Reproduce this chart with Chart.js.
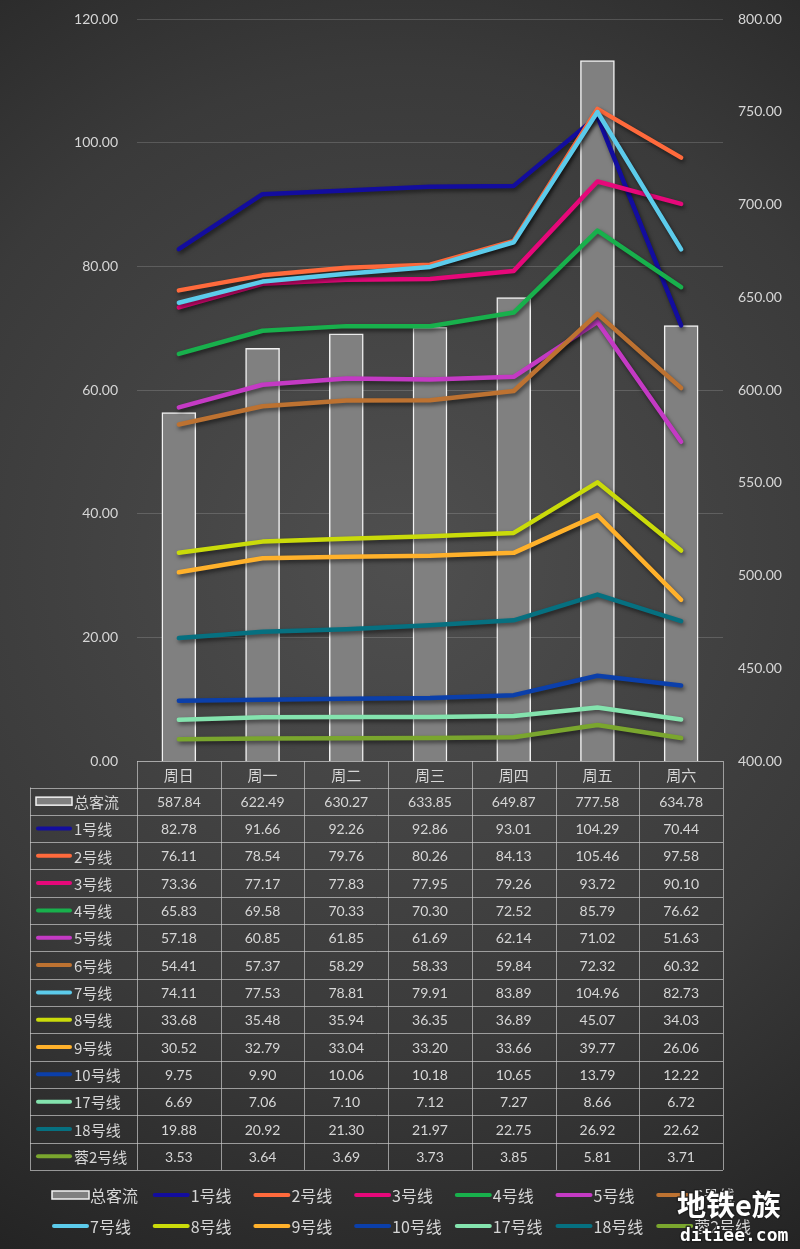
<!DOCTYPE html>
<html>
<head>
<meta charset="utf-8">
<script src="https://cdn.jsdelivr.net/npm/chart.js@4"></script>
<style>
  html, body { margin: 0; padding: 0; background: #2b2b2b; }
  canvas { display: block; }
</style>
</head>
<body>
<canvas id="flowChart" width="800" height="1249"></canvas>
<script>
// weekly passenger flow (万人次)

const days = ['周日','周一','周二','周三','周四','周五','周六'];

const totalFlow = [587.84, 622.49, 630.27, 633.85, 649.87, 777.58, 634.78];
const line1  = [82.78, 91.66, 92.26, 92.86, 93.01, 104.29, 70.44];
const line2  = [76.11, 78.54, 79.76, 80.26, 84.13, 105.46, 97.58];
const line3  = [73.36, 77.17, 77.83, 77.95, 79.26, 93.72, 90.10];
const line4  = [65.83, 69.58, 70.33, 70.30, 72.52, 85.79, 76.62];
const line5  = [57.18, 60.85, 61.85, 61.69, 62.14, 71.02, 51.63];
const line6  = [54.41, 57.37, 58.29, 58.33, 59.84, 72.32, 60.32];
const line7  = [74.11, 77.53, 78.81, 79.91, 83.89, 104.96, 82.73];
const line8  = [33.68, 35.48, 35.94, 36.35, 36.89, 45.07, 34.03];
const line9  = [30.52, 32.79, 33.04, 33.20, 33.66, 39.77, 26.06];
const line10 = [9.75, 9.90, 10.06, 10.18, 10.65, 13.79, 12.22];
const line17 = [6.69, 7.06, 7.10, 7.12, 7.27, 8.66, 6.72];
const line18 = [19.88, 20.92, 21.30, 21.97, 22.75, 26.92, 22.62];
const lineR2 = [3.53, 3.64, 3.69, 3.73, 3.85, 5.81, 3.71];

const lineNames  = ['1号线','2号线','3号线','4号线','5号线','6号线','7号线','8号线','9号线','10号线','17号线','18号线','蓉2号线'];
const lineValues = [line1, line2, line3, line4, line5, line6, line7, line8, line9, line10, line17, line18, lineR2];
const lineColors = ['#130D9E','#FF6A3C','#E6087A','#18B04C','#C43AC4','#BD7231','#5CCBEB',
                    '#CADB0A','#FFB12B','#0B3FAA','#84E3AE','#067080','#7AA62E'];

const leftMin = 0, leftMax = 120, leftStep = 20;
const rightMin = 400, rightMax = 800, rightStep = 50;

const FONT = "Lato, 'Noto Sans CJK SC', sans-serif";
const CJK  = "'Noto Sans CJK SC', sans-serif";
const textColor = '#d6d6d6';
const gridLine  = 'rgba(200,200,200,0.7)';
const BAR_FILL  = '#808080';

const datasets = [{
  type: 'bar',
  label: '总客流',
  data: totalFlow,
  yAxisID: 'yR',
  backgroundColor: BAR_FILL,
  borderColor: '#f2f2f2',
  borderWidth: 1.5,
  barThickness: 34,
  order: 100
}];
lineNames.forEach((name, i) => {
  datasets.push({
    type: 'line',
    label: name,
    data: lineValues[i],
    yAxisID: 'yL',
    borderColor: lineColors[i],
    backgroundColor: lineColors[i],
    borderWidth: 4.5,
    borderJoinStyle: 'round',
    borderCapStyle: 'round',
    pointRadius: 0,
    tension: 0,
    order: 50 - i
  });
});

// background + line shadows
const backdrop = {
  id: 'backdrop',
  beforeDraw(chart) {
    const { ctx, width, height } = chart;
    const g = ctx.createRadialGradient(400, 560, 0, 400, 560, 820);
    g.addColorStop(0, '#4f4f4f');
    g.addColorStop(0.6, '#3a3a3a');
    g.addColorStop(1, '#222222');
    ctx.save();
    ctx.fillStyle = g;
    ctx.fillRect(0, 0, width, height);
    ctx.restore();
  },
  beforeDatasetDraw(chart, args) {
    if (args.meta.type !== 'line') return;
    const ctx = chart.ctx;
    ctx.save();
    ctx.shadowColor = 'rgba(0,0,0,0.55)';
    ctx.shadowBlur = 4;
    ctx.shadowOffsetX = 1.5;
    ctx.shadowOffsetY = 2.5;
  },
  afterDatasetDraw(chart, args) {
    if (args.meta.type !== 'line') return;
    chart.ctx.restore();
  }
};

function drawKey(ctx, x0, x1, y, color, isBar) {
  if (isBar) {
    ctx.fillStyle = BAR_FILL;
    ctx.strokeStyle = '#f2f2f2';
    ctx.lineWidth = 1.5;
    ctx.fillRect(x0, y - 4, x1 - x0, 8);
    ctx.strokeRect(x0, y - 4, x1 - x0, 8);
  } else {
    ctx.strokeStyle = color;
    ctx.lineWidth = 4;
    ctx.lineCap = 'round';
    ctx.beginPath();
    ctx.moveTo(x0 + 2, y);
    ctx.lineTo(x1 - 2, y);
    ctx.stroke();
  }
}

// data table under the plot + bottom legend
const dataTable = {
  id: 'dataTable',
  afterDraw(chart) {
    const { ctx } = chart;
    const x = chart.scales.x;
    const area = chart.chartArea;
    const colW = (area.right - area.left) / days.length;
    const headTop = area.bottom, headBot = area.bottom + 26.5;
    const rowH = 27.32;
    const tableLeft = 30;
    const rows = [{ name: '总客流', vals: totalFlow, bar: true }]
      .concat(lineNames.map((n, i) => ({ name: n, vals: lineValues[i], color: lineColors[i] })));
    const tableBot = headBot + rows.length * rowH;

    ctx.save();
    ctx.strokeStyle = gridLine;
    ctx.lineWidth = 1;
    ctx.beginPath();
    // header row
    ctx.moveTo(area.left, headTop + 0.5); ctx.lineTo(area.right, headTop + 0.5);
    for (let k = 0; k <= days.length; k++) {
      const cx = Math.round(area.left + k * colW) + 0.5;
      ctx.moveTo(cx, headTop); ctx.lineTo(cx, tableBot);
    }
    for (let r = 0; r <= rows.length; r++) {
      const y = Math.round(headBot + r * rowH) + 0.5;
      ctx.moveTo(tableLeft, y); ctx.lineTo(area.right, y);
    }
    ctx.moveTo(tableLeft + 0.5, headBot); ctx.lineTo(tableLeft + 0.5, tableBot);
    ctx.stroke();

    ctx.fillStyle = textColor;
    ctx.textAlign = 'center';
    ctx.textBaseline = 'middle';
    ctx.font = '15px ' + CJK;
    days.forEach((d, i) => ctx.fillText(d, x.getPixelForValue(i), (headTop + headBot) / 2 + 1));

    rows.forEach((row, r) => {
      const cy = headBot + (r + 0.5) * rowH;
      drawKey(ctx, 36, 72, cy, row.color, row.bar);
      ctx.fillStyle = textColor;
      ctx.textAlign = 'left';
      ctx.font = '15px ' + CJK;
      ctx.fillText(row.name, 74, cy + 1);
      ctx.textAlign = 'center';
      ctx.font = '14px ' + FONT;
      row.vals.forEach((v, i) => ctx.fillText(v.toFixed(2), x.getPixelForValue(i), cy + 1));
    });

    // legend, two rows of seven
    rows.forEach((row, i) => {
      const col = i % 7, line = Math.floor(i / 7);
      const kx = 52 + col * 100.7;
      const ky = 1195 + line * 31;
      drawKey(ctx, kx, kx + 37, ky, row.color, row.bar);
      ctx.fillStyle = textColor;
      ctx.textAlign = 'left';
      ctx.font = '16px ' + CJK;
      ctx.fillText(row.name, kx + 38, ky + 1);
    });

    // site mark
    ctx.lineJoin = 'round';
    ctx.strokeStyle = 'rgba(30,30,30,0.85)';
    ctx.lineWidth = 3;
    ctx.fillStyle = '#ffffff';
    ctx.textAlign = 'left';
    ctx.font = 'bold 29px ' + CJK;
    ctx.strokeText('地铁e族', 677, 1205);
    ctx.fillText('地铁e族', 677, 1205);
    ctx.font = 'bold 18px "DejaVu Sans Mono", monospace';
    ctx.strokeText('ditiee.com', 680, 1236);
    ctx.fillText('ditiee.com', 680, 1236);
    ctx.restore();
  }
};

// keep tick padding from pushing the plot down
function fixAxis(width) {
  return s => { s.width = width; s.paddingTop = 0; s.paddingBottom = 0; };
}

new Chart(document.getElementById('flowChart'), {
  type: 'bar',
  data: { labels: days, datasets },
  options: {
    responsive: false,
    animation: false,
    devicePixelRatio: 1,
    layout: { padding: { top: 19, bottom: 1249 - 761, left: 0, right: 0 } },
    plugins: { legend: { display: false }, tooltip: { enabled: false } },
    scales: {
      x: { display: false, offset: true },
      yL: {
        position: 'left',
        min: leftMin, max: leftMax,
        afterFit: fixAxis(137),
        border: { display: false },
        grid: { color: 'rgba(255,255,255,0.16)', drawTicks: false },
        ticks: { stepSize: leftStep, padding: 19, color: textColor,
                 font: { family: FONT, size: 14 }, callback: v => v.toFixed(2) }
      },
      yR: {
        position: 'right',
        min: rightMin, max: rightMax,
        afterFit: fixAxis(77),
        border: { display: false },
        grid: { display: false, drawTicks: false },
        ticks: { stepSize: rightStep, padding: 15, color: textColor,
                 font: { family: FONT, size: 14 }, callback: v => v.toFixed(2) }
      }
    }
  },
  plugins: [backdrop, dataTable]
});
</script>
</body>
</html>
